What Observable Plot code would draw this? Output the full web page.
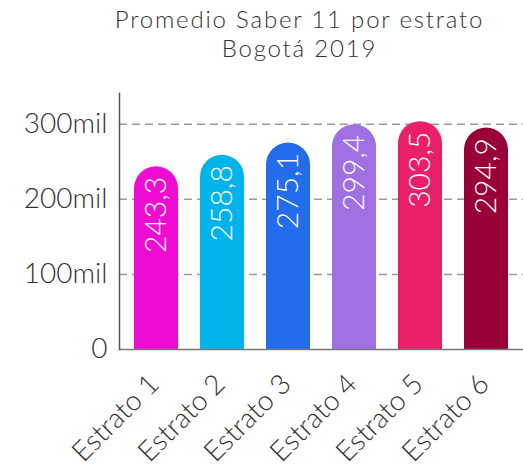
<!DOCTYPE html>
<html>
<head>
<meta charset="utf-8">
<script src="https://cdn.jsdelivr.net/npm/d3@7"></script>
<script src="https://cdn.jsdelivr.net/npm/@observablehq/plot@0.6"></script>
<style>
  body { margin: 0; background: #fff; }
  #title {
    box-sizing: border-box;
    height: 80px;
    padding-top: 4px;
    padding-left: 76px;
    text-align: center;
    font-family: "Lato", sans-serif;
    font-weight: 300;
    font-size: 24px;
    line-height: 29px;
    letter-spacing: 1.8px;
    color: #333;
  }
  #title div { height: 29px; white-space: nowrap; }
</style>
</head>
<body>
<div id="title"><div>Promedio Saber 11 por estrato</div><div>Bogotá 2019</div></div>
<div id="chart"></div>
<script>
const categories = ["Estrato 1", "Estrato 2", "Estrato 3", "Estrato 4", "Estrato 5", "Estrato 6"];
const values = [243.3, 258.8, 275.1, 299.4, 303.5, 294.9];
const colors = ["#ee0bd2", "#00b3eb", "#236ceb", "#a070e2", "#e91f6a", "#990038"];
const yTicks = [0, 100, 200, 300];
const yTickLabels = ["0", "100mil", "200mil", "300mil"];

const data = categories.map((c, i) => ({estrato: c, value: values[i], color: colors[i]}));
const tickLabel = new Map(yTicks.map((t, i) => [t, yTickLabels[i]]));
const fmt = v => v.toFixed(1).replace(".", ",");

const chart = Plot.plot({
  width: 523,
  height: 389,
  marginLeft: 119,
  marginRight: 0,
  marginTop: 13,
  marginBottom: 120,
  style: {fontFamily: "Lato, sans-serif", fontWeight: 300, fontSize: "28px", color: "#333", background: "#fff"},
  x: {domain: categories, paddingInner: 0.336, paddingOuter: 0.2, label: null},
  y: {domain: [0, 341], label: null},
  marks: [
    Plot.gridY(yTicks.filter(d => d > 0), {stroke: "#999", strokeOpacity: 1, strokeWidth: 1.5, strokeDasharray: "8,5"}),
    Plot.barY(data, {x: "estrato", y: "value", fill: "color", rx: 22}),
    Plot.barY(data, {x: "estrato", y1: 0, y2: 35, fill: "color"}),
    Plot.text(data, {x: "estrato", y: "value", text: d => fmt(d.value), rotate: -90, textAnchor: "end", lineAnchor: "middle", dy: 10, fill: "white", fontSize: 30, letterSpacing: 0.5}),
    Plot.axisY(yTicks, {tickSize: 0, tickPadding: 12, tickFormat: d => tickLabel.get(d), fill: "#333", fontSize: 28}),
    Plot.axisX({tickSize: 0, tickPadding: 30, tickRotate: -45, dx: -2, fill: "#333", fontSize: 28}),
    Plot.ruleY([0], {stroke: "#777", strokeWidth: 1.5}),
    Plot.frame({anchor: "left", stroke: "#555", strokeWidth: 1.5})
  ]
});
document.getElementById("chart").appendChild(chart);
</script>
</body>
</html>
